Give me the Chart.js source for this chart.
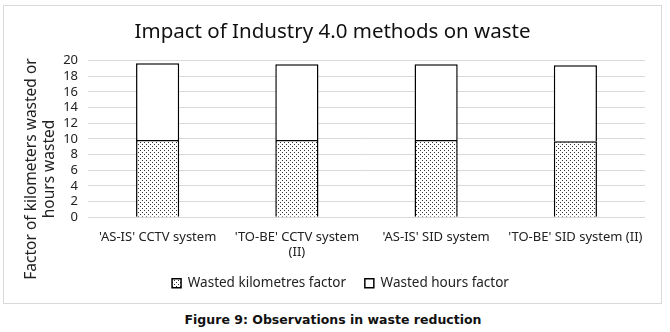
<!DOCTYPE html>
<html>
<head>
<meta charset="utf-8">
<script src="https://cdn.jsdelivr.net/npm/chart.js@4/dist/chart.umd.min.js"></script>
<style>
  html, body { margin: 0; padding: 0; background: #fff; }
  body { width: 670px; height: 332px; position: relative; overflow: hidden; }
  #box { position: absolute; left: 3px; top: 5px; width: 657px; height: 297px; border: 1px solid #d9d9d9; }
  #caption { position: absolute; left: 0; top: 312px; width: 666px; text-align: center;
             font: bold 12.5px "DejaVu Sans", sans-serif; color: #111; }
</style>
</head>
<body>
<div id="box"><canvas id="chart" width="657" height="297"></canvas></div>
<div id="caption">Figure 9: Observations in waste reduction</div>
<script>
// ————— Data —————
const categories = [
  "'AS-IS' CCTV system",
  ["'TO-BE' CCTV system", "(II)"],
  "'AS-IS' SID system",
  "'TO-BE' SID system (II)"
];
const seriesNames = ['Wasted kilometres factor', 'Wasted hours factor'];
const kmFactor    = [9.87, 9.87, 9.87, 9.7];
const hoursFactor = [9.8, 9.68, 9.68, 9.7];
const yTicks      = [0, 2, 4, 6, 8, 10, 12, 14, 16, 18, 20];
const yTitle      = ['Factor of kilometers wasted or', 'hours wasted'];

// ————— Dotted fill —————
function dotPattern() {
  const c = document.createElement('canvas');
  c.width = 4; c.height = 4;
  const g = c.getContext('2d');
  g.fillStyle = '#fff'; g.fillRect(0, 0, 4, 4);
  g.fillStyle = '#333';
  g.fillRect(0, 0, 1, 1);
  g.fillRect(2, 2, 1, 1);
  return document.getElementById('chart').getContext('2d').createPattern(c, 'repeat');
}
const dots = dotPattern();

const font = "'Noto Sans', 'DejaVu Sans', sans-serif";

// y-axis title sits lower than the plot centre in the original
const yTitlePlugin = {
  id: 'yTitle',
  afterLayout(chart) {
    // nudge legend a little right, like the original
    chart.legend.left += 8;
    chart.legend.right += 8;
  },
  afterDraw(chart) {
    const ctx = chart.ctx;
    ctx.save();
    ctx.fillStyle = '#222';
    ctx.font = `15.5px ${font}`;
    ctx.textAlign = 'center';
    ctx.textBaseline = 'middle';
    ctx.translate(0, 163);
    ctx.rotate(-Math.PI / 2);
    ctx.fillText(yTitle[0], 0, 28);
    ctx.fillText(yTitle[1], 0, 46);
    ctx.restore();
  }
};

new Chart(document.getElementById('chart'), {
  type: 'bar',
  data: {
    labels: categories,
    datasets: [
      { label: seriesNames[0], data: kmFactor, backgroundColor: dots,
        borderColor: '#000', borderWidth: 1.5, barPercentage: 0.31, categoryPercentage: 1 },
      { label: seriesNames[1], data: hoursFactor, backgroundColor: '#fff',
        borderColor: '#000', borderWidth: 1.5, barPercentage: 0.31, categoryPercentage: 1 }
    ]
  },
  options: {
    responsive: false,
    animation: false,
    layout: { padding: { left: 0, right: 0, top: 4, bottom: 3 } },
    plugins: {
      title: { display: true, text: 'Impact of Industry 4.0 methods on waste',
               color: '#111', font: { family: font, size: 20.5, weight: 'normal' },
               padding: { top: 10, bottom: 16 } },
      legend: { position: 'bottom',
                labels: { boxWidth: 9, boxHeight: 9, color: '#222', padding: 12,
                          font: { family: font, size: 13.5 },
                          generateLabels: chart => {
                            const items = Chart.defaults.plugins.legend.labels.generateLabels(chart);
                            items[0].text = items[0].text + '\u2002';
                            return items;
                          } } },
      tooltip: { enabled: false }
    },
    scales: {
      x: { stacked: true,
           grid: { display: false }, border: { display: false },
           afterFit: ax => { ax.paddingRight = 16; },
           ticks: { color: '#222', padding: 4, font: { family: font, size: 13 }, maxRotation: 0, autoSkip: false } },
      y: { stacked: true, min: 0, max: 20,
           afterBuildTicks: ax => { ax.ticks = yTicks.map(v => ({ value: v })); },
           afterFit: ax => { ax.width = 84; },
           grid: { color: '#d9d9d9', drawTicks: false }, border: { display: false },
           ticks: { color: '#222', padding: 10, autoSkip: false, font: { family: font, size: 13 } } }
    }
  },
  plugins: [yTitlePlugin]
});
</script>
</body>
</html>
